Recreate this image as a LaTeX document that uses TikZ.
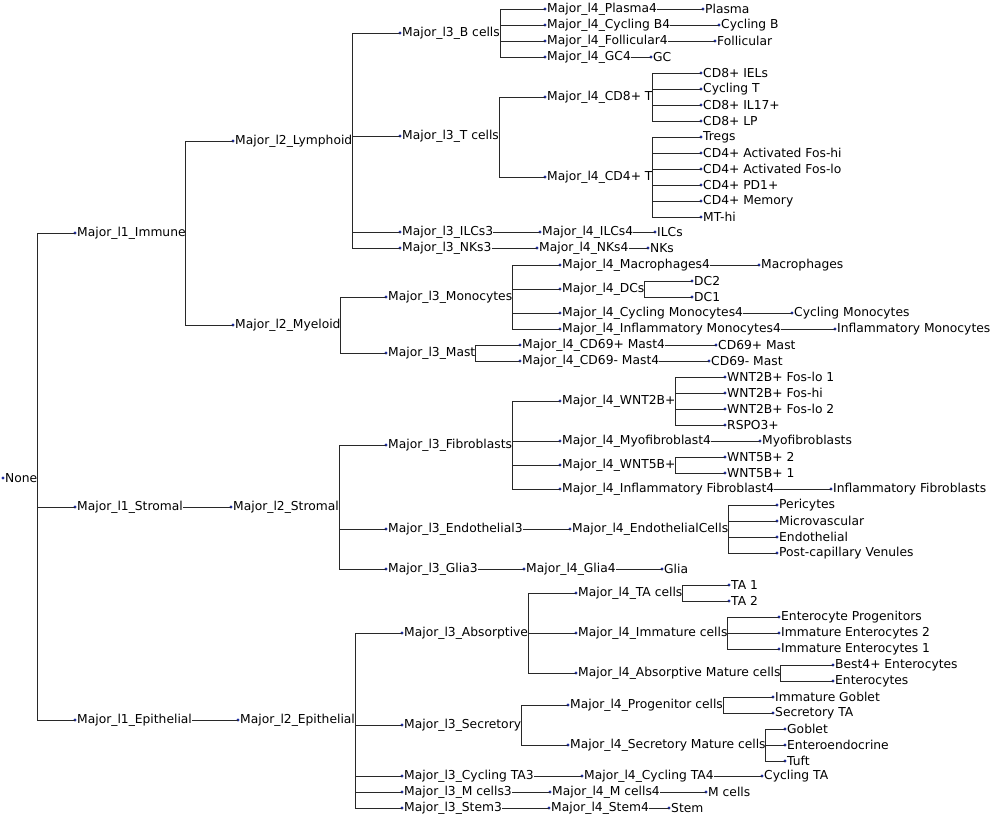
\documentclass[tikz,border=0pt]{standalone}
\usepackage{fontspec}
\setmainfont{DejaVu Sans}
\definecolor{dotc}{RGB}{30,45,160}
\definecolor{linec}{RGB}{40,40,40}
\tikzset{lab/.style={anchor=west,inner sep=0pt,xshift=2pt,font=\fontsize{12.3}{14}\selectfont,text=black},
 conn/.style={draw=linec,line width=0.8pt}}
\newcommand{\T}[4]{\coordinate (#1-d) at (#2,#3); \fill[dotc] (#2,#3) circle (1.7); \node[lab] (#1) at (#2,#3) {#4};}
\newcommand{\E}[2]{\draw[conn] (#1.east) |- (#2-d);}
\begin{document}
\begin{tikzpicture}[x=1pt,y=-1pt]
\useasboundingbox (0,0) rectangle (1002,818);
\T{none}{3}{478}{None}
\T{imm}{75}{233}{Major\_l1\_Immune}
\T{str}{75}{507}{Major\_l1\_Stromal}
\T{epi}{75}{720}{Major\_l1\_Epithelial}
\E{none}{imm}\E{none}{str}\E{none}{epi}
\T{lym}{233}{141}{Major\_l2\_Lymphoid}
\T{mye}{233}{325}{Major\_l2\_Myeloid}
\E{imm}{lym}\E{imm}{mye}
\T{bc}{400}{33}{Major\_l3\_B cells}
\T{tc}{400}{136}{Major\_l3\_T cells}
\T{ilc3}{400}{232}{Major\_l3\_ILCs3}
\T{nk3}{400}{248}{Major\_l3\_NKs3}
\E{lym}{bc}\E{lym}{tc}\E{lym}{ilc3}\E{lym}{nk3}
\T{pl4}{545}{9}{Major\_l4\_Plasma4}
\T{cb4}{545}{25}{Major\_l4\_Cycling B4}
\T{fo4}{545}{41}{Major\_l4\_Follicular4}
\T{gc4}{545}{57}{Major\_l4\_GC4}
\E{bc}{pl4}\E{bc}{cb4}\E{bc}{fo4}\E{bc}{gc4}
\T{pl}{703}{9}{Plasma}\E{pl4}{pl}
\T{cb}{719}{25}{Cycling B}\E{cb4}{cb}
\T{fo}{715}{41}{Follicular}\E{fo4}{fo}
\T{gc}{651}{57}{GC}\E{gc4}{gc}
\T{cd8}{545}{97}{Major\_l4\_CD8+ T}
\T{cd4}{545}{177}{Major\_l4\_CD4+ T}
\E{tc}{cd8}\E{tc}{cd4}
\T{a1}{701}{73}{CD8+ IELs}\E{cd8}{a1}
\T{a2}{701}{89}{Cycling T}\E{cd8}{a2}
\T{a3}{701}{105}{CD8+ IL17+}\E{cd8}{a3}
\T{a4}{701}{121}{CD8+ LP}\E{cd8}{a4}
\T{b1}{701}{137}{Tregs}\E{cd4}{b1}
\T{b2}{701}{153}{CD4+ Activated Fos-hi}\E{cd4}{b2}
\T{b3}{701}{169}{CD4+ Activated Fos-lo}\E{cd4}{b3}
\T{b4}{701}{185}{CD4+ PD1+}\E{cd4}{b4}
\T{b5}{701}{201}{CD4+ Memory}\E{cd4}{b5}
\T{b6}{701}{217}{MT-hi}\E{cd4}{b6}
\T{ilc4}{540}{232}{Major\_l4\_ILCs4}\E{ilc3}{ilc4}
\T{ilc}{655}{232}{ILCs}\E{ilc4}{ilc}
\T{nk4}{537}{248}{Major\_l4\_NKs4}\E{nk3}{nk4}
\T{nk}{648}{248}{NKs}\E{nk4}{nk}
\T{mono}{386}{297}{Major\_l3\_Monocytes}
\T{mast}{386}{353}{Major\_l3\_Mast}
\E{mye}{mono}\E{mye}{mast}
\T{mac4}{560}{265}{Major\_l4\_Macrophages4}
\T{dcs}{560}{289}{Major\_l4\_DCs}
\T{cm4}{560}{313}{Major\_l4\_Cycling Monocytes4}
\T{im4}{560}{329}{Major\_l4\_Inflammatory Monocytes4}
\E{mono}{mac4}\E{mono}{dcs}\E{mono}{cm4}\E{mono}{im4}
\T{mac}{759}{265}{Macrophages}\E{mac4}{mac}
\T{dc2}{692}{281}{DC2}\E{dcs}{dc2}
\T{dc1}{692}{297}{DC1}\E{dcs}{dc1}
\T{cm}{792}{313}{Cycling Monocytes}\E{cm4}{cm}
\T{im}{835}{329}{Inflammatory Monocytes}\E{im4}{im}
\T{mp4}{520}{345}{Major\_l4\_CD69+ Mast4}
\T{mn4}{520}{361}{Major\_l4\_CD69- Mast4}
\E{mast}{mp4}\E{mast}{mn4}
\T{mp}{716}{345}{CD69+ Mast}\E{mp4}{mp}
\T{mn}{709}{361}{CD69- Mast}\E{mn4}{mn}
\T{str2}{231}{507}{Major\_l2\_Stromal}\E{str}{str2}
\T{fib}{386}{445}{Major\_l3\_Fibroblasts}
\T{endo3}{386}{529}{Major\_l3\_Endothelial3}
\T{glia3}{386}{569}{Major\_l3\_Glia3}
\E{str2}{fib}\E{str2}{endo3}\E{str2}{glia3}
\T{w2}{560}{401}{Major\_l4\_WNT2B+}
\T{myo4}{560}{441}{Major\_l4\_Myofibroblast4}
\T{w5}{560}{465}{Major\_l4\_WNT5B+}
\T{if4}{560}{489}{Major\_l4\_Inflammatory Fibroblast4}
\E{fib}{w2}\E{fib}{myo4}\E{fib}{w5}\E{fib}{if4}
\T{c1}{725}{377}{WNT2B+ Fos-lo 1}\E{w2}{c1}
\T{c2}{725}{393}{WNT2B+ Fos-hi}\E{w2}{c2}
\T{c3}{725}{409}{WNT2B+ Fos-lo 2}\E{w2}{c3}
\T{c4}{725}{425}{RSPO3+}\E{w2}{c4}
\T{myo}{760}{441}{Myofibroblasts}\E{myo4}{myo}
\T{d1}{725}{457}{WNT5B+ 2}\E{w5}{d1}
\T{d2}{725}{473}{WNT5B+ 1}\E{w5}{d2}
\T{iff}{831}{489}{Inflammatory Fibroblasts}\E{if4}{iff}
\T{endo4}{570}{529}{Major\_l4\_EndothelialCells}\E{endo3}{endo4}
\T{e1}{777}{505}{Pericytes}\E{endo4}{e1}
\T{e2}{777}{521}{Microvascular}\E{endo4}{e2}
\T{e3}{777}{537}{Endothelial}\E{endo4}{e3}
\T{e4}{777}{553}{Post-capillary Venules}\E{endo4}{e4}
\T{glia4}{524}{569}{Major\_l4\_Glia4}\E{glia3}{glia4}
\T{glia}{662}{569}{Glia}\E{glia4}{glia}
\T{epi2}{238}{720}{Major\_l2\_Epithelial}\E{epi}{epi2}
\T{abs}{402}{633}{Major\_l3\_Absorptive}
\T{sec}{402}{725}{Major\_l3\_Secretory}
\T{cta3}{402}{776}{Major\_l3\_Cycling TA3}
\T{mc3}{402}{792}{Major\_l3\_M cells3}
\T{st3}{402}{808}{Major\_l3\_Stem3}
\E{epi2}{abs}\E{epi2}{sec}\E{epi2}{cta3}\E{epi2}{mc3}\E{epi2}{st3}
\T{ta4}{576}{593}{Major\_l4\_TA cells}
\T{imc4}{576}{633}{Major\_l4\_Immature cells}
\T{am4}{576}{673}{Major\_l4\_Absorptive Mature cells}
\E{abs}{ta4}\E{abs}{imc4}\E{abs}{am4}
\T{ta1}{729}{585}{TA 1}\E{ta4}{ta1}
\T{ta2}{729}{601}{TA 2}\E{ta4}{ta2}
\T{f1}{779}{617}{Enterocyte Progenitors}\E{imc4}{f1}
\T{f2}{779}{633}{Immature Enterocytes 2}\E{imc4}{f2}
\T{f3}{779}{649}{Immature Enterocytes 1}\E{imc4}{f3}
\T{g1}{833}{665}{Best4+ Enterocytes}\E{am4}{g1}
\T{g2}{833}{681}{Enterocytes}\E{am4}{g2}
\T{pc4}{568}{705}{Major\_l4\_Progenitor cells}
\T{sm4}{568}{745}{Major\_l4\_Secretory Mature cells}
\E{sec}{pc4}\E{sec}{sm4}
\T{h1}{773}{697}{Immature Goblet}\E{pc4}{h1}
\T{h2}{773}{713}{Secretory TA}\E{pc4}{h2}
\T{k1}{785}{729}{Goblet}\E{sm4}{k1}
\T{k2}{785}{745}{Enteroendocrine}\E{sm4}{k2}
\T{k3}{785}{761}{Tuft}\E{sm4}{k3}
\T{cta4}{582}{776}{Major\_l4\_Cycling TA4}\E{cta3}{cta4}
\T{cta}{762}{776}{Cycling TA}\E{cta4}{cta}
\T{mc4}{550}{792}{Major\_l4\_M cells4}\E{mc3}{mc4}
\T{mc}{706}{792}{M cells}\E{mc4}{mc}
\T{st4}{549}{808}{Major\_l4\_Stem4}\E{st3}{st4}
\T{st}{669}{808}{Stem}\E{st4}{st}
\end{tikzpicture}
\end{document}
